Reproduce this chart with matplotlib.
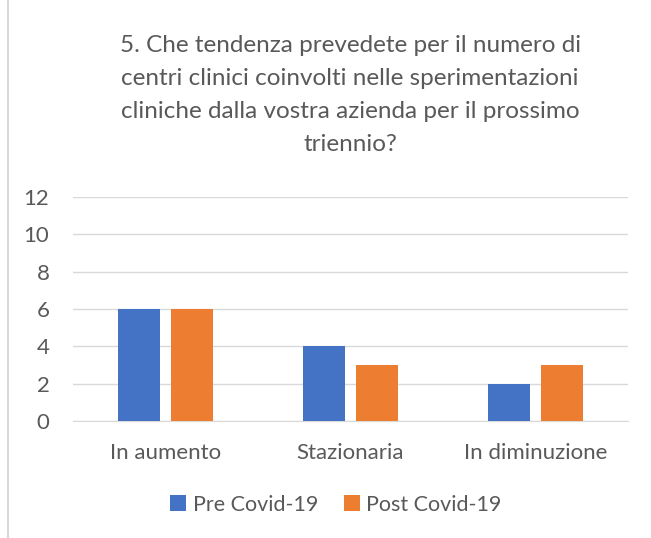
import matplotlib.pyplot as plt
from matplotlib.lines import Line2D
import numpy as np

categories = ["In aumento", "Stazionaria", "In diminuzione"]
pre_covid = [6, 4, 2]
post_covid = [6, 3, 3]
series_names = ["Pre Covid-19", "Post Covid-19"]
yticks = [0, 2, 4, 6, 8, 10, 12]
title = ("5. Che tendenza prevedete per il numero di\n"
         "centri clinici coinvolti nelle sperimentazioni\n"
         "cliniche dalla vostra azienda per il prossimo\n"
         "triennio?")

plt.rcParams['font.family'] = ['Lato', 'DejaVu Sans']
txt = '#595959'

fig = plt.figure(figsize=(6.51, 5.38), dpi=100)
ax = fig.add_axes([73 / 651, 0.2175, 555 / 651, 0.4165])

x = np.arange(len(categories))
w = 0.227
off = 0.143
ax.bar(x - off, pre_covid, w, color='#4472C4', label=series_names[0], zorder=3)
ax.bar(x + off, post_covid, w, color='#ED7D31', label=series_names[1], zorder=3)

ax.set_xlim(-0.5, 2.5)
ax.set_ylim(0, 12)
ax.set_yticks(yticks)
ax.set_xticks(x)
ax.set_xticklabels(categories)
ax.grid(axis='y', color='#d9d9d9', linewidth=1, zorder=0)
for s in ['top', 'right', 'left']:
    ax.spines[s].set_visible(False)
ax.spines['bottom'].set_color('#d9d9d9')
ax.tick_params(length=0, labelsize=16, colors=txt)
ax.tick_params(axis='x', pad=16)
ax.tick_params(axis='y', pad=17)

fig.text(0.538, 0.935, title, ha='center', va='top', fontsize=17.5,
         color=txt, linespacing=1.7)

leg = fig.legend(loc='center', bbox_to_anchor=(0.516, 0.062), ncol=2,
                 frameon=False, fontsize=15.5, handlelength=0.75,
                 handleheight=0.75, handletextpad=0.3, columnspacing=1.2)
for t in leg.get_texts():
    t.set_color(txt)

fig.add_artist(Line2D([0.0123, 0.0123], [0, 1], color='#d9d9d9', linewidth=1.5))

fig.savefig('out.png', dpi=100)
